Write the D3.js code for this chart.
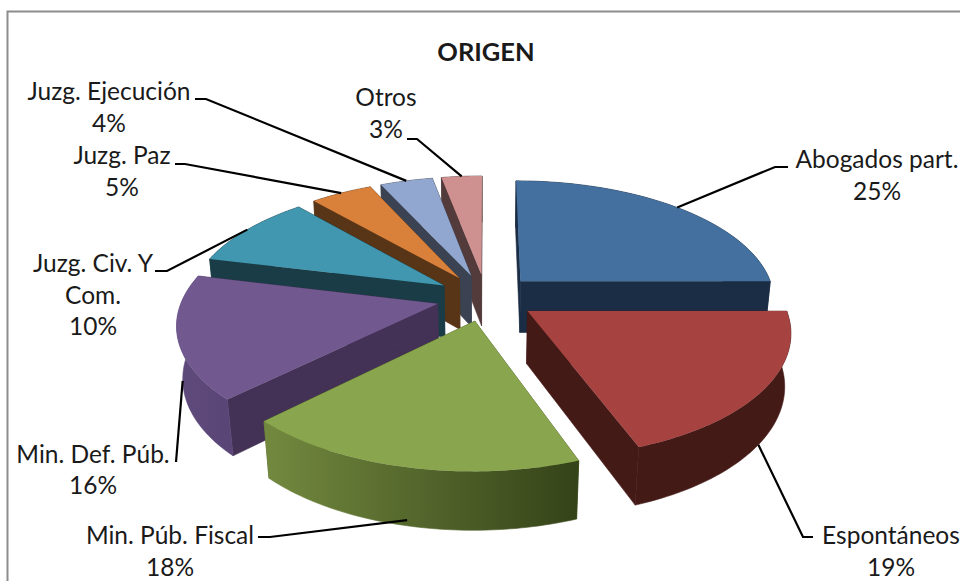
<!DOCTYPE html>
<html>
<head>
<meta charset="utf-8">
<style>
	html, body { margin: 0; padding: 0; background: #fff; }
	svg { display: block; }
	text { font-family: Lato, "Open Sans", sans-serif; font-size: 24.5px; fill: #1a1a1a; text-anchor: middle; }
	.title { font-weight: 700; font-size: 25.5px; }
</style>
</head>
<body>
<svg id="chart" width="960" height="581"></svg>
<script src="https://cdnjs.cloudflare.com/ajax/libs/d3/7.8.5/d3.min.js"></script>
<script>
	// Data
	const categories = ["Abogados part.", "Espontáneos", "Min. Púb. Fiscal", "Min. Def. Púb.", "Juzg. Civ. Y Com.", "Juzg. Paz", "Juzg. Ejecución", "Otros"];
	const values = [25, 19.4, 18.2, 16.2, 9.7, 4.6, 3.9, 3];

	// Colours: top face, radial wall, outer wall (left and right end of its gradient)
	const topColors = ["#44709f", "#a64340", "#89a54e", "#71588f", "#4197af", "#d9803a", "#92a7cf", "#cf9190"];
	const wallColors = ["#1b2d44", "#441a17", "#4f6128", "#433255", "#193c46", "#583516", "#3b4353", "#543b3b"];
	const outerColors = [["#1b2d44", "#1b2d44"], ["#441a17", "#441a17"], ["#73893f", "#344318"], ["#5f4a7c", "#5a4676"], ["#193c46", "#193c46"], ["#583516", "#583516"], ["#3b4353", "#3b4353"], ["#543b3b", "#543b3b"]];

	// Label layout, same order as categories
	const labelLines = [["Abogados part.", "25%"], ["Espontáneos", "19%"], ["Min. Púb. Fiscal", "18%"], ["Min. Def. Púb.", "16%"], ["Juzg. Civ. Y", "Com.", "10%"], ["Juzg. Paz", "5%"], ["Juzg. Ejecución", "4%"], ["Otros", "3%"]];
	const labelX = [877, 891, 170, 93, 93, 122, 109, 386];
	const labelY = [[168, 200], [544, 576], [544, 576], [463, 494], [272, 304, 335], [164, 196], [100, 132], [106, 138]];
	const leaderStart = [[[788, 167], [775, 167]], [[813, 537], [803, 537]], [[258, 537], [270, 537]], [[176, 462]], [[155, 271], [167, 271]], [[175, 164], [185, 164]], [[195, 99], [206, 99]], [[407, 139], [417, 139]]];
	const leaderDepth = [0, 1, 0.9, 0.8, 0, 0, 0, 0];

	// Projection of the exploded pie: perspective on a tilted disc
	const cx = 486, cy = 297.5, radius = 255, tilt = 120, depth = 53, persp = 0.15, perspZ = 0.02, explode = 0.195;

	function project(u, v, z) {
		let w = 1 - persp * v + perspZ * z;
		return [cx + radius * u / w, cy + (tilt * v + depth * z) / w];
	}

	const svg = d3.select("#chart");
	const defs = svg.append("defs");

	// Chart frame
	svg.append("rect")
		.attr("x", 7.5).attr("y", 11.5).attr("width", 1000).attr("height", 700)
		.attr("fill", "#fff").attr("stroke", "#8c8c8c").attr("stroke-width", 2);

	svg.append("text").attr("class", "title").attr("x", 486).attr("y", 61).text("ORIGEN");

	const arcs = d3.pie().sort(null).value(d => d)(values);
	const line = d3.line();

	function slicePoint(a, angle, z, r) {
		let mid = (a.startAngle + a.endAngle) / 2;
		let u = r * Math.sin(angle) + explode * Math.sin(mid);
		let v = -r * Math.cos(angle) - explode * Math.cos(mid);
		return project(u, v, z);
	}

	function arcPoints(a, z) {
		return d3.range(0, 61).map(i => slicePoint(a, a.startAngle + (a.endAngle - a.startAngle) * i / 60, z, 1));
	}

	// Painter's order, back slices first
	const drawOrder = [7, 6, 5, 4, 0, 3, 1, 2];

	drawOrder.forEach(function(i) {
		let a = arcs[i];
		let g = svg.append("g").attr("class", "slice");
		let apexTop = slicePoint(a, 0, 0, 0);
		let apexBottom = slicePoint(a, 0, 1, 0);
		let topArc = arcPoints(a, 0);
		let bottomArc = arcPoints(a, 1);

		// Radial walls
		[0, 60].forEach(function(k) {
			g.append("path")
				.attr("d", line([apexTop, topArc[k], bottomArc[k], apexBottom]) + "Z")
				.attr("fill", wallColors[i])
				.attr("stroke", wallColors[i])
				.attr("stroke-width", 0.6);
		});

		// Outer wall
		let gradId = "outer" + i;
		let xs = d3.extent(topArc, p => p[0]);
		let grad = defs.append("linearGradient")
			.attr("id", gradId)
			.attr("gradientUnits", "userSpaceOnUse")
			.attr("x1", xs[0]).attr("x2", xs[1]).attr("y1", 0).attr("y2", 0);
		grad.append("stop").attr("offset", 0).attr("stop-color", outerColors[i][0]);
		grad.append("stop").attr("offset", 1).attr("stop-color", outerColors[i][1]);
		g.append("path")
			.attr("d", line(topArc.concat(bottomArc.slice().reverse())) + "Z")
			.attr("fill", "url(#" + gradId + ")")
			.attr("stroke", "url(#" + gradId + ")")
			.attr("stroke-width", 0.6);

		// Top face
		g.append("path")
			.attr("d", line([apexTop].concat(topArc)) + "Z")
			.attr("fill", topColors[i]);
	});

	// Leader lines and labels
	categories.forEach(function(name, i) {
		let a = arcs[i];
		let end = slicePoint(a, (a.startAngle + a.endAngle) / 2, leaderDepth[i], 1);
		svg.append("path")
			.attr("d", line(leaderStart[i].concat([end])))
			.attr("fill", "none")
			.attr("stroke", "#000")
			.attr("stroke-width", 2.2);

		labelLines[i].forEach(function(t, k) {
			svg.append("text").attr("x", labelX[i]).attr("y", labelY[i][k]).text(t);
		});
	});
</script>
</body>
</html>
